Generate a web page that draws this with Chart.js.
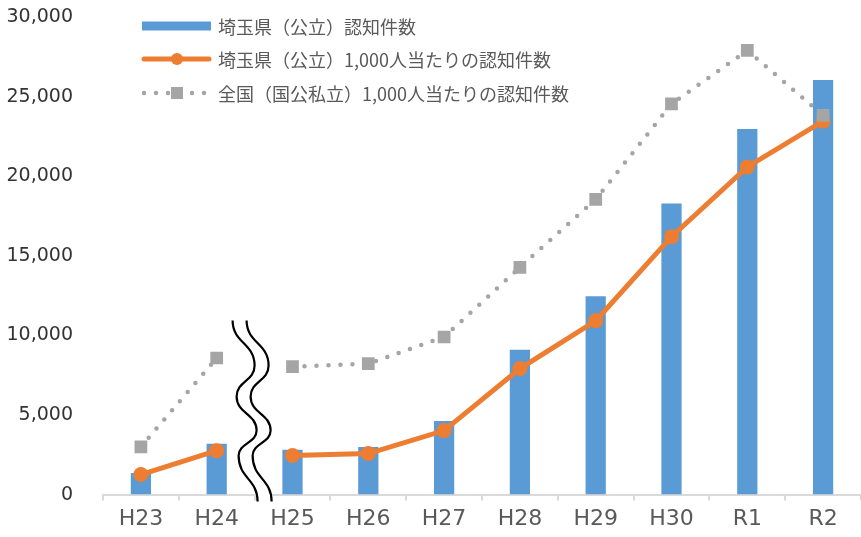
<!DOCTYPE html>
<html lang="ja">
<head>
<meta charset="UTF-8">
<title>いじめ認知件数</title>
<script src="https://cdn.jsdelivr.net/npm/chart.js"></script>
<style>
  html, body { margin: 0; padding: 0; background: #fff; }
  #wrap { width: 861px; height: 537px; }
</style>
</head>
<body>
<div id="wrap"><canvas id="chart" width="861" height="537"></canvas></div>
<script>
// data
var years = ['H23', 'H24', 'H25', 'H26', 'H27', 'H28', 'H29', 'H30', 'R1', 'R2'];
var saitamaCount = [1350, 3200, 2820, 2990, 4620, 9100, 12460, 18280, 22960, 26050];
var saitamaPer1000 = [2.1, 4.6, 4.1, 4.3, 6.7, 13.2, 18.2, 27.0, 34.3, 39.1];
var nationalPer1000 = [5.0, 14.3, 13.4, 13.7, 16.5, 23.8, 30.9, 40.9, 46.5, 39.7];
var yTicks = [0, 5000, 10000, 15000, 20000, 25000, 30000];

var legendLabels = [
  '埼玉県（公立）認知件数',
  '埼玉県（公立）1,000人当たりの認知件数',
  '全国（国公私立）1,000人当たりの認知件数'
];

var BLUE = '#5b9bd5', ORANGE = '#ed7d31', GRAY = '#a5a5a5';
var FONT = '"Noto Sans CJK JP", "DejaVu Sans", sans-serif';
var NUMFONT = '"DejaVu Sans", sans-serif';

// hide the line segment across the H24 | H25 break
function gapSegment(color) {
  return function (ctx) { return ctx.p0DataIndex === 1 ? 'rgba(0,0,0,0)' : color; };
}

// the wavy break mark and the legend
var extras = {
  id: 'extras',
  afterDatasetsDraw: function (chart) {
    var c = chart.ctx, x = chart.scales.x, area = chart.chartArea;
    var xb = (x.getPixelForValue(1) + x.getPixelForValue(2)) / 2;
    var b = area.bottom;
    var pts = [[-22, -174], [0, -129], [-18, -98], [2, -64], [-16, -39], [3, 7]];
    function wave(dx) {
      c.moveTo(xb + pts[0][0] + dx, b + pts[0][1]);
      for (var i = 1; i < pts.length; i++) {
        var p0 = pts[i - 1], p1 = pts[i], dy = p1[1] - p0[1];
        c.bezierCurveTo(xb + p0[0] + dx, b + p0[1] + dy * 0.5,
                        xb + p1[0] + dx, b + p1[1] - dy * 0.5,
                        xb + p1[0] + dx, b + p1[1]);
      }
    }
    c.save();
    // white band between the two wavy lines
    for (var k = 0; k <= 14; k += 1) {
      c.beginPath(); wave(k); c.lineWidth = 2; c.strokeStyle = '#fff'; c.stroke();
    }
    c.strokeStyle = '#000';
    c.lineWidth = 2.2;
    c.beginPath(); wave(0); c.stroke();
    c.beginPath(); wave(14); c.stroke();
    c.restore();
  },
  afterDraw: function (chart) {
    var c = chart.ctx;
    var x0 = 142, x1 = 211, xm = 177, tx = 218;
    var rows = [26, 59, 93];
    c.save();
    // bar series
    c.fillStyle = BLUE;
    c.fillRect(x0, rows[0] - 4.5, x1 - x0, 9);
    // orange line with a dot
    c.strokeStyle = ORANGE; c.lineWidth = 5; c.lineCap = 'round';
    c.beginPath(); c.moveTo(x0 + 2, rows[1]); c.lineTo(x1 - 2, rows[1]); c.stroke();
    c.fillStyle = ORANGE;
    c.beginPath(); c.arc(xm, rows[1], 6, 0, Math.PI * 2); c.fill();
    // gray dotted line with a square
    c.strokeStyle = GRAY; c.lineWidth = 4.5; c.setLineDash([0, 12]);
    c.beginPath(); c.moveTo(x0 + 2, rows[2]); c.lineTo(x1, rows[2]); c.stroke();
    c.setLineDash([]);
    c.fillStyle = GRAY;
    c.fillRect(xm - 6, rows[2] - 6, 12, 12);
    // texts
    c.fillStyle = '#595959';
    c.font = '18px ' + FONT;
    c.textBaseline = 'middle';
    c.textAlign = 'left';
    for (var i = 0; i < legendLabels.length; i++) c.fillText(legendLabels[i], tx, rows[i] + 1);
    c.restore();
  }
};

var ctx = document.getElementById('chart').getContext('2d');
var chart = new Chart(ctx, {
  type: 'bar',
  data: {
    labels: years,
    datasets: [
      {
        type: 'line',
        label: legendLabels[2],
        data: nationalPer1000,
        yAxisID: 'y1',
        borderColor: GRAY,
        backgroundColor: GRAY,
        borderWidth: 4.5,
        borderDash: [0, 12],
        borderCapStyle: 'round',
        pointStyle: 'rect',
        pointRadius: 9,
        pointHoverRadius: 9,
        pointBorderWidth: 0,
        tension: 0,
        segment: { borderColor: gapSegment(GRAY) },
        order: 0
      },
      {
        type: 'line',
        label: legendLabels[1],
        data: saitamaPer1000,
        yAxisID: 'y1',
        borderColor: ORANGE,
        backgroundColor: ORANGE,
        borderWidth: 5,
        pointStyle: 'circle',
        pointRadius: 7.5,
        pointHoverRadius: 7.5,
        pointBorderWidth: 0,
        tension: 0,
        segment: { borderColor: gapSegment(ORANGE) },
        order: 1
      },
      {
        label: legendLabels[0],
        data: saitamaCount,
        yAxisID: 'y',
        backgroundColor: BLUE,
        categoryPercentage: 1,
        barPercentage: 0.267,
        order: 2
      }
    ]
  },
  options: {
    responsive: false,
    animation: false,
    events: [],
    layout: { autoPadding: false, padding: { top: 17, right: -4, bottom: 0, left: 0 } },
    plugins: {
      legend: { display: false },
      tooltip: { enabled: false }
    },
    scales: {
      x: {
        offset: true,
        grid: {
          offset: true,
          drawOnChartArea: false,
          drawTicks: true,
          tickLength: 6,
          color: '#d9d9d9',
          lineWidth: 2
        },
        border: { display: true, color: '#d9d9d9', width: 2 },
        afterFit: function (axis) { axis.paddingLeft = 0; axis.paddingRight = 0; },
        ticks: {
          color: '#595959',
          font: { family: NUMFONT, size: 22 },
          padding: 5
        }
      },
      y: {
        min: 0,
        max: 30000,
        afterBuildTicks: function (axis) {
          axis.ticks = yTicks.map(function (v) { return { value: v }; });
        },
        grid: { display: false },
        border: { display: false },
        afterFit: function (axis) {
          axis.width = 103;
          axis.paddingTop = 2;
          axis.paddingBottom = 2;
        },
        ticks: {
          color: '#333333',
          padding: 22,
          font: { family: NUMFONT, size: 19 },
          callback: function (v) { return v.toLocaleString('en-US'); }
        }
      },
      y1: {
        display: false,
        position: 'right',
        min: 0,
        max: 50
      }
    }
  },
  plugins: [extras]
});
</script>
</body>
</html>
